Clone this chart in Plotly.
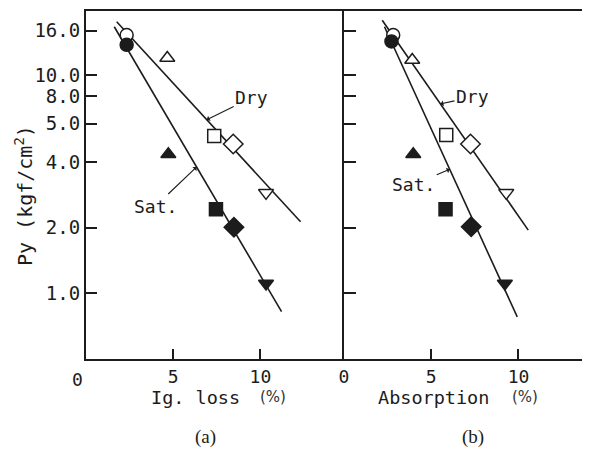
import math
import plotly.graph_objects as go

# ---- data ----
# Panel (a): Ig. loss (%)
a_open_x = [2.33, 4.66, 7.35, 8.44, 10.32]
a_open_y = [15.3, 12.0, 5.27, 4.84, 2.89]
a_fill_x = [2.33, 4.72, 7.45, 8.48, 10.32]
a_fill_y = [13.8, 4.35, 2.43, 2.01, 1.11]
# Panel (b): Absorption (%)
b_open_x = [2.82, 3.91, 5.86, 7.25, 9.30]
b_open_y = [15.3, 11.75, 5.32, 4.84, 2.89]
b_fill_x = [2.72, 3.97, 5.82, 7.29, 9.22]
b_fill_y = [14.3, 4.35, 2.43, 2.02, 1.11]
symbols = ["circle", "triangle-up", "square", "diamond", "triangle-down"]

# fitted lines (end points)
dry_a_x = [1.76, 12.30]
dry_a_y = [17.6, 2.13]
sat_a_x = [1.62, 11.21]
sat_a_y = [16.7, 0.824]
dry_b_x = [2.19, 10.56]
dry_b_y = [17.9, 1.95]
sat_b_x = [2.32, 9.93]
sat_b_y = [16.7, 0.78]

y_tickvals = [1, 2, 4, 6, 8, 10, 16]
y_ticktext = ["1.0", "2.0", "4.0", "5.0", "8.0", "10.0", "16.0"]
x_tickvals = [0, 5, 10]

MONO = "DejaVu Sans Mono"
INK = "#1c1c1c"

fig = go.Figure()

def line(xs, ys, xa, ya):
    fig.add_trace(go.Scatter(x=xs, y=ys, mode="lines", xaxis=xa, yaxis=ya,
                             line=dict(color=INK, width=1.6), showlegend=False,
                             hoverinfo="skip"))

def markers(xs, ys, filled, xa, ya):
    sizes = {"circle": 13, "triangle-up": 13, "square": 13, "diamond": 15, "triangle-down": 13}
    fig.add_trace(go.Scatter(
        x=xs, y=ys, mode="markers", xaxis=xa, yaxis=ya, showlegend=False,
        marker=dict(symbol=symbols, size=[sizes[s] for s in symbols], opacity=1,
                    color=INK if filled else "white",
                    line=dict(color=INK, width=1.5))))

line(dry_a_x, dry_a_y, "x", "y")
line(sat_a_x, sat_a_y, "x", "y")
line(dry_b_x, dry_b_y, "x2", "y2")
line(sat_b_x, sat_b_y, "x2", "y2")
markers(a_open_x, a_open_y, False, "x", "y")
markers(a_fill_x, a_fill_y, True, "x", "y")
markers(b_open_x, b_open_y, False, "x2", "y2")
markers(b_fill_x, b_fill_y, True, "x2", "y2")

def on_line(xs, ys, x):
    l0, l1 = math.log10(ys[0]), math.log10(ys[1])
    return l0 + (x - xs[0]) / (xs[1] - xs[0]) * (l1 - l0)

# the page body has an 8px margin, so the figure is drawn 8px in from the corner
OFF = 8
W, H = 590 - OFF, 450 - OFF
L, R, T, B = 86 - OFF, 0, 11 - OFF, 450 - 359
PW, PH = W - L - R, H - T - B
split = (344 - 86) / PW

def px(xp):
    return (xp - OFF - L) / PW

def py(yp):
    return (H - B - (yp - OFF)) / PH

axis_common = dict(showline=True, linecolor=INK, linewidth=2, ticks="inside",
                   tickcolor=INK, tickwidth=1.5, showgrid=False, zeroline=False)
xfont = dict(family=MONO, size=18, color=INK)
yfont = dict(family=MONO, size=19, color=INK)

fig.update_layout(
    width=W, height=H, margin=dict(l=L, r=R, t=T, b=B),
    paper_bgcolor="white", plot_bgcolor="white",
    xaxis=dict(domain=[0, split], range=[0, 14.79], tickvals=[5, 10], tickfont=xfont,
               ticklen=10, mirror=True, anchor="y", **axis_common),
    xaxis2=dict(domain=[split, 1], range=[0, 14.1], tickvals=x_tickvals, tickfont=xfont,
                ticklen=10, mirror=True, anchor="y2", **axis_common),
    yaxis=dict(type="log", range=[math.log10(0.5), 1.295], tickvals=y_tickvals,
               ticktext=y_ticktext, ticklen=11, anchor="x", tickfont=yfont, **axis_common),
    yaxis2=dict(type="log", range=[math.log10(0.5), 1.295], tickvals=y_tickvals,
                showticklabels=False, ticklen=12, anchor="x2", **axis_common),
)

ann = []
txt = dict(family=MONO, size=18, color=INK)
arrow = dict(showarrow=True, arrowhead=1, arrowsize=0.9, arrowwidth=1.1,
             arrowcolor=INK, axref="pixel", ayref="pixel", standoff=0, font=txt)
ann.append(dict(text="Dry", x=6.92, y=on_line(dry_a_x, dry_a_y, 6.92), xref="x", yref="y",
                ax=45, ay=-22, **arrow))
ann.append(dict(text="Sat.", x=6.34, y=on_line(sat_a_x, sat_a_y, 6.34), xref="x", yref="y",
                ax=-41, ay=39, **arrow))
ann.append(dict(text="Dry", x=5.53, y=on_line(dry_b_x, dry_b_y, 5.53), xref="x2", yref="y2",
                ax=32, ay=-7, **arrow))
ann.append(dict(text="Sat.", x=6.06, y=on_line(sat_b_x, sat_b_y, 6.06), xref="x2", yref="y2",
                ax=-36, ay=15, **arrow))

plain = dict(showarrow=False, xref="paper", yref="paper", xanchor="center", yanchor="middle")
title_font = dict(family=MONO, size=18.5, color=INK)
pct_font = dict(family="DejaVu Sans", size=15, color="#333")
ann.append(dict(text="0", x=px(77), y=py(379), font=xfont, **plain))
ann.append(dict(text="Ig. loss", x=px(195), y=py(397), font=title_font, **plain))
ann.append(dict(text="(%)", x=px(273), y=py(397), font=pct_font, **plain))
ann.append(dict(text="Absorption", x=px(433), y=py(397), font=title_font, **plain))
ann.append(dict(text="(%)", x=px(525), y=py(397), font=pct_font, **plain))
ann.append(dict(text="(a)", x=px(205), y=py(437), font=dict(family="Liberation Serif", size=19, color=INK), **plain))
ann.append(dict(text="(b)", x=px(473), y=py(437), font=dict(family="Liberation Serif", size=19, color=INK), **plain))
ann.append(dict(text="Py (kgf/cm<sup>2</sup>)", x=px(24), y=py(196), textangle=-90,
                font=dict(family=MONO, size=20, color=INK), **plain))
fig.update_layout(annotations=ann)

fig.write_html("out.html")
